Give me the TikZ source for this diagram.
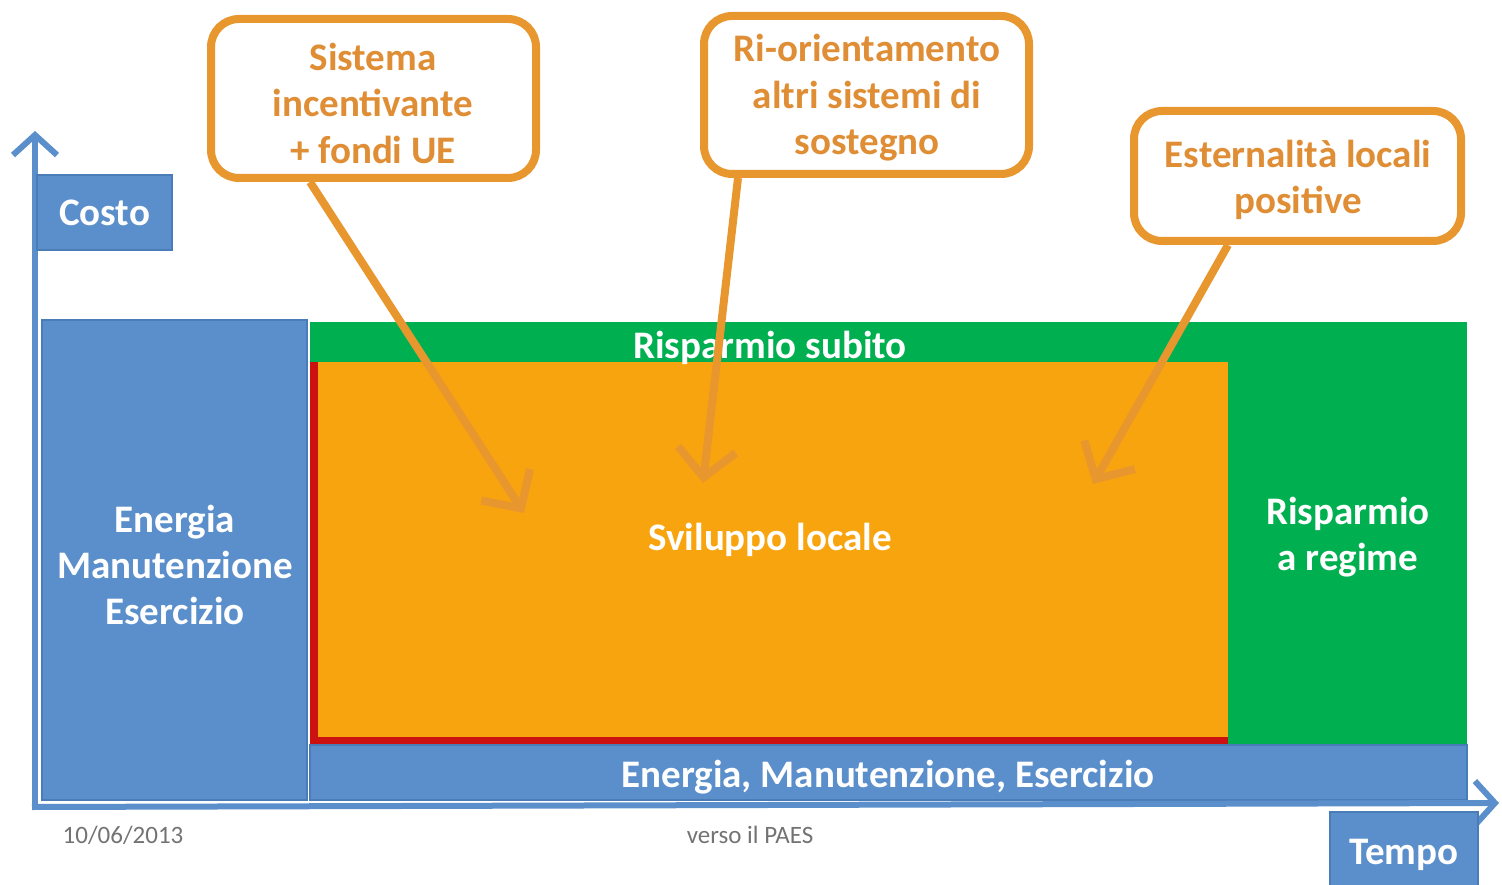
\documentclass[tikz,border=0pt]{standalone}
\usepackage{fontspec}
\setmainfont{Carlito}
\usetikzlibrary{arrows.meta}
\definecolor{cblue}{HTML}{5B8FCB}
\definecolor{cblueD}{HTML}{4A7CB8}
\definecolor{cgreen}{HTML}{00B050}
\definecolor{corange}{HTML}{F8A40E}
\definecolor{cline}{HTML}{E8962E}
\definecolor{ctext}{HTML}{E08E35}
\definecolor{cred}{HTML}{CC1111}
\begin{document}
\begin{tikzpicture}[x=1pt,y=-1pt,
  lbl/.style={font=\fontsize{39}{46}\selectfont\bfseries, text=white, align=center},
  blk/.style={anchor=north west, inner sep=0pt, outer sep=0pt},
  bluebox/.style={blk, fill=cblue, draw=cblueD, line width=1.5pt},
  callout/.style={blk, draw=cline, line width=8pt, rounded corners=28pt, fill=white},
  calltext/.style={text=ctext, font=\fontsize{39}{46.5}\selectfont\bfseries, align=center},
  pointer/.style={draw=cline, line width=8pt, -{Straight Barb[length=28pt,width=58pt]}},
  axisline/.style={draw=cblue, line width=6pt, -{Straight Barb[length=20pt,width=44pt]}},
  foot/.style={font=\fontsize{25}{28}\selectfont, text=black!55}]
\useasboundingbox (0,0) rectangle (1502,885);

% blocks
\node[bluebox, minimum width=265pt, minimum height=480pt] (left) at (42,320) {};
\node[lbl] (leftlbl) at (175,565) {Energia\\Manutenzione\\Esercizio};
\node[blk, fill=cgreen, minimum width=1157pt, minimum height=423pt] (green) at (310,322) {};
\node[blk, fill=corange, minimum width=918pt, minimum height=383pt] (orange) at (310,362) {};
\fill[cred] (orange.north west) rectangle ([xshift=8pt]orange.south west);
\fill[cred] ([yshift=8pt]orange.south west) rectangle (orange.south east);
\node[bluebox, minimum width=1157pt, minimum height=55pt] (bottom) at (310,745) {};
\node[lbl] (bottomlbl) at (888,777) {Energia, Manutenzione, Esercizio};
\node[lbl] (subito) at (770,348) {Risparmio subito};
\node[lbl] (svil) at (770,540) {Sviluppo locale};
\node[lbl] (regime) at (1348,537) {Risparmio\\a regime};

% axes
\coordinate (origin) at (35,805);
\coordinate (ytop) at (35,131);
\coordinate (xend) at (1499,803);
\draw[axisline] (origin) -- (ytop);
\draw[axisline] ([xshift=-3pt,yshift=-2pt]origin) -- (xend);
\node[bluebox, minimum width=135pt, minimum height=75pt] (costo) at (37,175) {};
\node[lbl] at (costo.center) {Costo};
\node[bluebox, minimum width=148pt, minimum height=80pt] (tempo) at (1330,812) {};
\node[lbl] at (1404,855) {Tempo};

% footer
\node[foot] (date) at (123,835) {10/06/2013};
\node[foot] (paes) at (750,835) {verso il PAES};

% callouts
\node[callout, minimum width=325pt, minimum height=159pt] (c1) at (211,19) {};
\node[calltext] (c1t) at (373,103) {Sistema\\incentivante\\+ fondi UE};
\node[callout, minimum width=325pt, minimum height=158pt] (c2) at (704,16) {};
\node[calltext] (c2t) at (867,98) {Ri-orientamento\\altri sistemi di\\sostegno};
\node[callout, minimum width=327pt, minimum height=130pt] (c3) at (1134,111) {};
\node[calltext] (c3t) at (1298,180) {Esternalità locali\\positive};

\coordinate (t1) at (524,513);
\coordinate (t2) at (703,483);
\coordinate (t3) at (1093,484);
\draw[pointer] ([xshift=99pt,yshift=-4pt]c1.south west) -- (t1);
\draw[pointer] ([xshift=34pt,yshift=-4pt]c2.south west) -- (t2);
\draw[pointer] ([xshift=94pt,yshift=-4pt]c3.south west) -- (t3);
\end{tikzpicture}
\end{document}
